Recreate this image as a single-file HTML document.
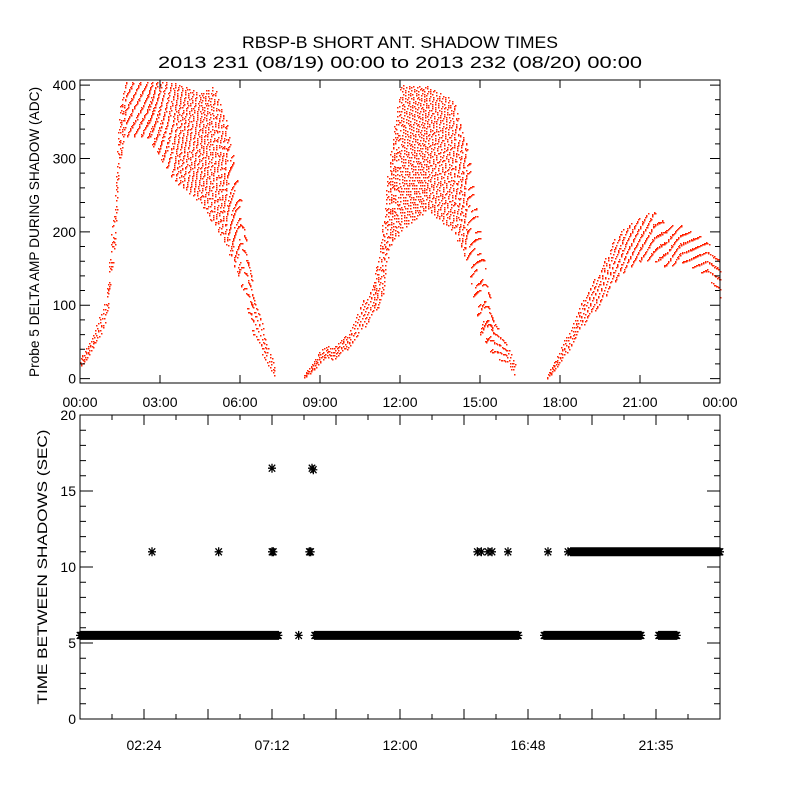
<!DOCTYPE html>
<html><head><meta charset="utf-8"><style>
body{margin:0;background:#fff}
svg text{font-family:"Liberation Sans",sans-serif;fill:#000}
</style></head><body>
<svg id="c" width="800" height="800" viewBox="0 0 800 800">
<rect width="800" height="800" fill="#fff"/>
<text x="400" y="48" font-size="17" text-anchor="middle" textLength="316" lengthAdjust="spacingAndGlyphs">RBSP-B SHORT ANT. SHADOW TIMES</text>
<text x="400" y="68" font-size="17" text-anchor="middle" textLength="484" lengthAdjust="spacingAndGlyphs">2013 231 (08/19) 00:00 to 2013 232 (08/20) 00:00</text>
<g id="top"></g>
<g id="bot"></g>
</svg>
<script>
// top panel envelope data: hours, low, high (ADC)
const ampHours=[0,0.5,1.0,1.3,1.5,1.7,2.5,3.5,4.5,5.0,5.5,6.0,6.5,7.0,7.3, 8.4,9.0,9.3,9.5,10.0,10.5,11.0,11.3,11.6,12.0,13.0,14.0,14.5,15.0,15.5,16.0,16.3, 17.5,18.0,18.5,19.0,19.5,20.0,20.5,21.0,21.5,22.0,22.5,23.0,23.5,24.0];
const ampLow=[15,40,80,180,300,330,330,270,240,210,180,130,60,20,0, 0,20,30,25,40,60,90,100,180,200,230,200,160,60,30,20,0, 0,20,50,80,100,130,150,160,160,150,160,150,140,110];
const ampHigh=[30,60,120,250,380,405,405,405,390,400,350,250,120,50,20, 5,40,45,45,60,100,130,200,300,400,400,380,320,200,80,50,20, 5,40,80,120,150,190,210,220,230,210,210,200,190,160];
const ampSegments=[[0,14],[15,31],[32,45]];
// bottom panel: continuous bands [start, end, value], isolated points
const bandStart=[0,8.8,17.4,21.7,18.4];
const bandEnd=[7.45,16.45,21.05,22.4,24];
const bandValue=[5.5,5.5,5.5,5.5,11];
const ptHours=[8.2,2.7,5.2,7.2,7.25,8.6,8.65,14.9,15.05,15.3,15.45,16.05,17.55,18.3,18.9,19.05,7.2,8.7,8.75];
const ptValues=[5.5,11,11,11,11,11,11,11,11,11,11,11,11,11,11,11,16.5,16.5,16.4];
const topTicks=["00:00","03:00","06:00","09:00","12:00","15:00","18:00","21:00","00:00"];
const botTicks=["02:24","07:12","12:00","16:48","21:35"];

const NS="http://www.w3.org/2000/svg";
function el(p,t,a){const e=document.createElementNS(NS,t);for(const k in a)e.setAttribute(k,a[k]);p.appendChild(e);return e;}
// top axes
const T={x0:80,x1:720,y0:383,y1:80,vmin:-6,vmax:407};
const tx=h=>T.x0+h/24*(T.x1-T.x0);
const ty=v=>T.y0+(v-T.vmin)/(T.vmax-T.vmin)*(T.y1-T.y0);
const topG=document.getElementById('top');
const dots=el(topG,'g',{fill:'#ff2000'});


let d='';let idx=0;
const STEPS_PER_HOUR=24;
ampSegments.forEach(([a,b])=>{
  for(let i=a;i<b;i++){
    const h0=ampHours[i],h1=ampHours[i+1];
    const steps=Math.max(1,Math.round((h1-h0)*STEPS_PER_HOUR));
    for(let s=0;s<steps;s++){
      const n0=Math.max(3,Math.round(((ampHigh[i]-ampLow[i])+(ampHigh[i+1]-ampLow[i+1]))/2/9));
      for(let k=0;k<n0;k++){
        idx++;
        const fx=(idx*0.5698402910)%1, fr=(idx*0.7548776662)%1;
        const f=(s+fx)/steps,h=h0+f*(h1-h0);
        const lo=ampLow[i]+f*(ampLow[i+1]-ampLow[i]);
        const hi=ampHigh[i]+f*(ampHigh[i+1]-ampHigh[i]);
        const v=lo+fr*(hi-lo);
        const x=Math.round(tx(h)),y=Math.round(ty(v));
        if(v<=405) d+=`M${x} ${y}h1.5v1.5h-1.5z`;
      }
    }
  }
});
el(dots,'path',{d:d});
el(topG,'rect',{x:80,y:80,width:640,height:303,fill:'none',stroke:'#000','stroke-width':1});
let tk='';
for(let i=0;i<=8;i++){const x=tx(i*3);tk+=`M${x} 383v-8M${x} 80v8`;}
for(let v=0;v<=400;v+=20){const y=ty(v);const L=v%100===0?10:5;tk+=`M80 ${y}h${L}M720 ${y}h-${L}`;}
el(topG,'path',{d:tk,stroke:'#000','stroke-width':1,fill:'none'});
topTicks.forEach((t,i)=>{const e=el(topG,'text',{x:tx(i*3),y:407,'font-size':14,'text-anchor':'middle'});e.textContent=t;

});
[0,100,200,300,400].forEach(v=>{const e=el(topG,'text',{x:76,y:ty(v)+5,'font-size':14,'text-anchor':'end'});e.textContent=v;

});
const yl=el(topG,'text',{x:39,y:232,'font-size':14,'text-anchor':'middle',textLength:290,lengthAdjust:'spacingAndGlyphs',transform:'rotate(-90 39 232)'});
yl.textContent='Probe 5 DELTA AMP DURING SHADOW (ADC)';



// bottom axes
const B={x0:80,x1:720,y0:719,y1:415};
const bx=h=>B.x0+h/24*(B.x1-B.x0);
const by=v=>B.y0+v/20*(B.y1-B.y0);
const botG=document.getElementById('bot');
let ad='';
function star(h,v){const x=bx(h),y=by(v);ad+=`M${x-4} ${y}h8M${x} ${y-4.5}v9M${x-3.2} ${y-3.5}l6.4 7M${x-3.2} ${y+3.5}l6.4 -7`;}
for(let i=0;i<bandStart.length;i++){for(let h=bandStart[i];h<=bandEnd[i];h+=0.04)star(h,bandValue[i]);}
for(let i=0;i<ptHours.length;i++)star(ptHours[i],ptValues[i]);
const sg=el(botG,'path',{d:ad,stroke:'#000','stroke-width':1.3,fill:'none'});


el(botG,'rect',{x:80,y:415,width:640,height:304,fill:'none',stroke:'#000','stroke-width':1});
let bk='';
for(let i=0;i<=20;i++){const x=bx(i*1.2);const L=i%2===0?10:5;bk+=`M${x} 719v-${L}M${x} 415v${L}`;}
for(let v=0;v<=20;v++){const y=by(v);const L=v%5===0?13:6;bk+=`M80 ${y}h${L}M720 ${y}h-${L}`;}
el(botG,'path',{d:bk,stroke:'#000','stroke-width':1,fill:'none'});
botTicks.forEach((t,i)=>{const e=el(botG,'text',{x:bx((i*2+1)*2.4),y:750,'font-size':14,'text-anchor':'middle'});e.textContent=t;

});
[0,5,10,15,20].forEach(v=>{const e=el(botG,'text',{x:76,y:by(v)+5,'font-size':14,'text-anchor':'end'});e.textContent=v;

});
const yl2=el(botG,'text',{x:47,y:567,'font-size':14,'text-anchor':'middle',textLength:275,lengthAdjust:'spacingAndGlyphs',transform:'rotate(-90 47 567)'});
yl2.textContent='TIME BETWEEN SHADOWS (SEC)';


</script>
</body></html>
